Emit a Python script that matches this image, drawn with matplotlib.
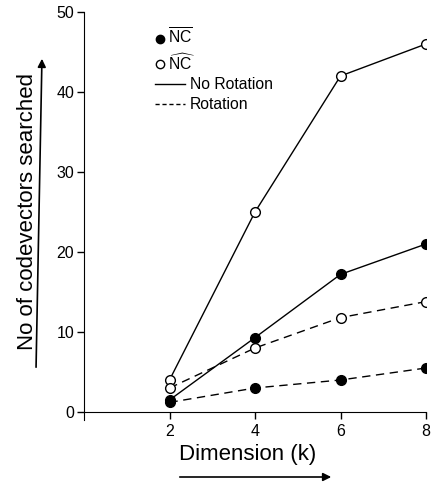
import matplotlib
matplotlib.use("Agg")
import matplotlib.pyplot as plt
from matplotlib.lines import Line2D
from matplotlib.patches import FancyArrowPatch

plt.rcParams['font.family'] = ['Liberation Sans', 'DejaVu Sans']
plt.rcParams['mathtext.fontset'] = 'custom'
plt.rcParams['mathtext.rm'] = 'Liberation Sans'
plt.rcParams['mathtext.it'] = 'Liberation Sans:italic'

dims = [2, 4, 6, 8]
nc_bar_norot = [1.5, 9.3, 17.2, 21.0]
nc_hat_norot = [4.0, 25.0, 42.0, 46.0]
nc_hat_rot = [3.0, 8.0, 11.8, 13.8]
nc_bar_rot = [1.2, 3.0, 4.0, 5.5]
xticks = [2, 4, 6, 8]
yticks = [0, 10, 20, 30, 40, 50]

W, H = 441, 484
fig = plt.figure(figsize=(W / 100, H / 100), dpi=100)
ax = fig.add_axes([84 / W, 1 - 412 / H, 342 / W, 400 / H])

lw = 1.0
ms = 7
dash = (0, (6, 4))
ax.plot(dims, nc_hat_norot, '-', color='black', lw=lw, marker='o', ms=ms,
        mfc='white', mec='black', mew=1.0)
ax.plot(dims, nc_bar_norot, '-', color='black', lw=lw, marker='o', ms=ms,
        mfc='black', mec='black')
ax.plot(dims, nc_hat_rot, linestyle=dash, color='black', lw=lw, marker='o', ms=ms,
        mfc='white', mec='black', mew=1.0)
ax.plot(dims, nc_bar_rot, linestyle=dash, color='black', lw=lw, marker='o', ms=ms,
        mfc='black', mec='black')

ax.set_xlim(0, 8)
ax.set_ylim(0, 50)
ax.set_xticks(xticks)
ax.set_yticks(yticks)
ax.spines['top'].set_visible(False)
ax.spines['right'].set_visible(False)
ax.spines['left'].set_bounds(-1, 50)
ax.tick_params(axis='both', direction='out', length=5, width=1, labelsize=11.5, pad=2)
ax.tick_params(axis='x', pad=4)

fs_leg = 11.3
mk_handles = [
    Line2D([], [], linestyle='none', marker='o', ms=6, mfc='black', mec='black'),
    Line2D([], [], linestyle='none', marker='o', ms=6, mfc='white', mec='black'),
]
mk_labels = [r'$\overline{\mathrm{NC}}$', r'$\widehat{\mathrm{NC}}$']
leg1 = ax.legend(mk_handles, mk_labels, loc='upper left',
                 bbox_to_anchor=(155 / W, 1 - 27 / H), bbox_transform=fig.transFigure,
                 frameon=False, fontsize=fs_leg, handlelength=0.6, handletextpad=0.25,
                 labelspacing=0.3, borderpad=0, borderaxespad=0)
ax.add_artist(leg1)
ln_handles = [
    Line2D([], [], linestyle='-', color='black', lw=1),
    Line2D([], [], linestyle=(0, (3, 2)), color='black', lw=1),
]
ln_labels = ['No Rotation', 'Rotation']
ax.legend(ln_handles, ln_labels, loc='upper left',
          bbox_to_anchor=(155 / W, 1 - 77 / H), bbox_transform=fig.transFigure,
          frameon=False, fontsize=fs_leg, handlelength=1.9, handletextpad=0.3,
          labelspacing=0.33, borderpad=0, borderaxespad=0)

ax.set_xlabel('Dimension (k)', fontsize=16)
ax.xaxis.set_label_coords((247.5 - 84) / 342, -(447 - 3 - 412) / 400)
ax.set_ylabel('No of codevectors searched', fontsize=16, labelpad=13)

fig.patches.append(FancyArrowPatch(
    (177 / W, 1 - 477 / H), (334 / W, 1 - 477 / H), transform=fig.transFigure,
    arrowstyle='-|>', mutation_scale=12, color='black', lw=1.2))
fig.patches.append(FancyArrowPatch(
    (36 / W, 1 - 370 / H), (42 / W, 1 - 56 / H), transform=fig.transFigure,
    arrowstyle='-|>', mutation_scale=12, color='black', lw=1.2))

fig.savefig('out.png', dpi=100)
